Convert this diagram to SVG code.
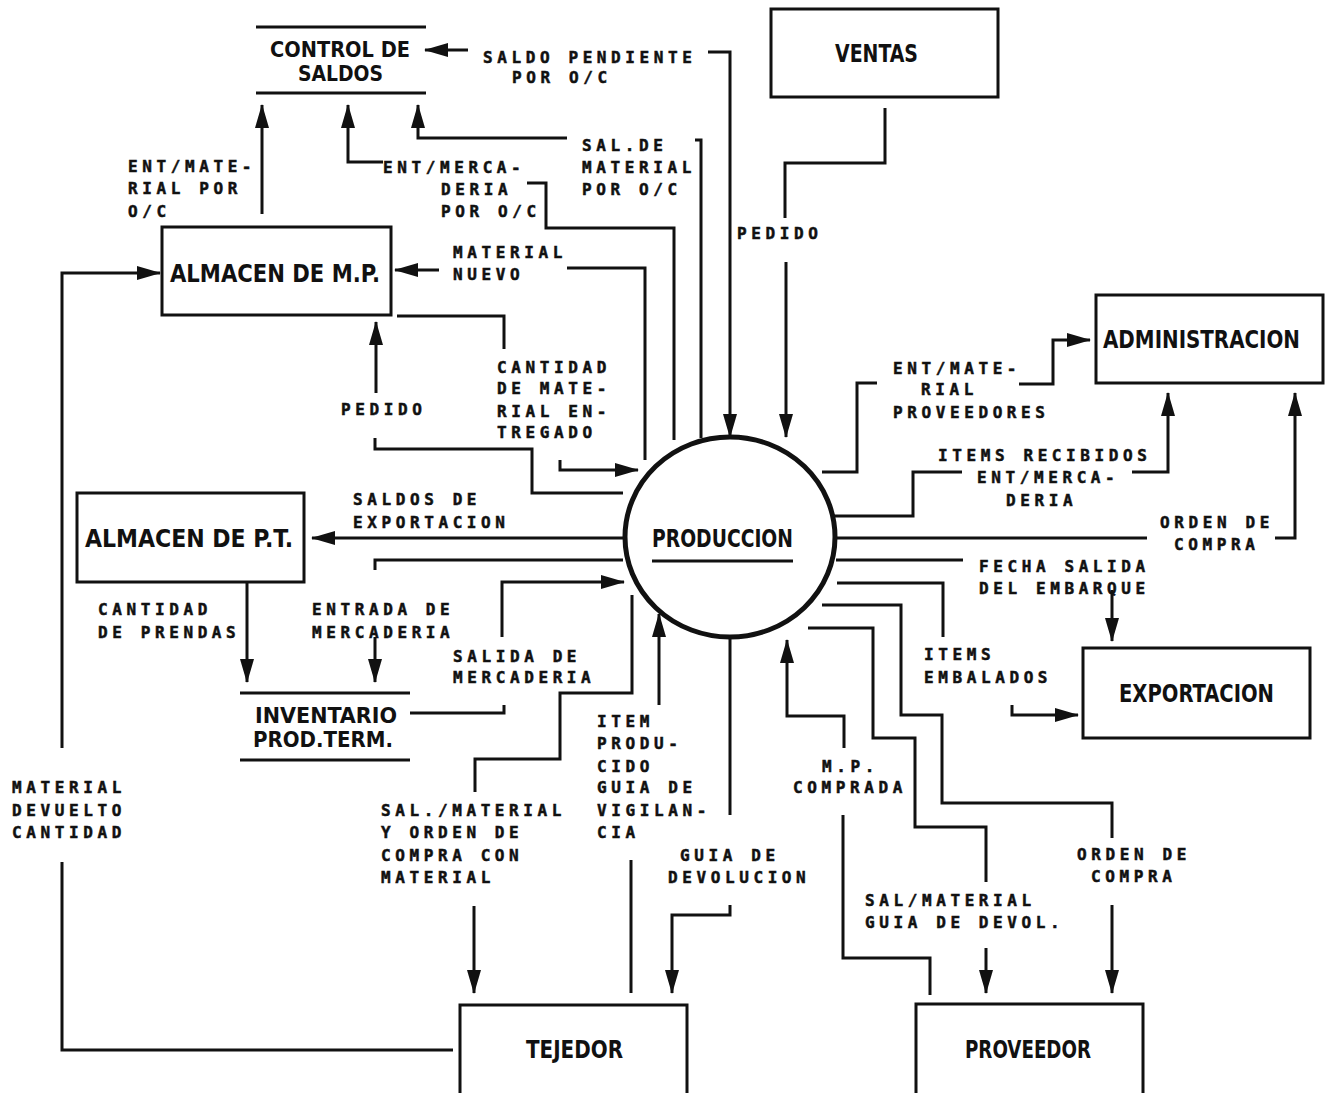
<svg xmlns="http://www.w3.org/2000/svg" width="1331" height="1093" viewBox="0 0 1331 1093">
<defs>
<marker id="ah" viewBox="0 0 24 14" refX="23" refY="7" markerWidth="24" markerHeight="14" markerUnits="userSpaceOnUse" orient="auto">
<path d="M0,0 L24,7 L0,14 Z" fill="#111"/>
</marker>
</defs>
<style>
.bx{fill:none;stroke:#111;stroke-width:3}
.st{stroke:#111;stroke-width:3}
.nt{font-family:"Liberation Sans Narrow","DejaVu Sans Condensed","Liberation Sans",sans-serif;font-weight:bold;font-size:25px;fill:#111}
.n2{font-size:21.5px}
.ln{fill:none;stroke:#111;stroke-width:3;stroke-linejoin:miter}
.ar{marker-end:url(#ah)}
.lb{font-family:"DejaVu Sans Mono","Liberation Mono",monospace;font-weight:bold;font-size:16px;letter-spacing:4.6px;fill:#111;stroke:#111;stroke-width:0.5}
</style>
<rect width="1331" height="1093" fill="#fff"/>

<g id="control-de-saldos">
<line class="st" x1="256" y1="27" x2="426" y2="27"/>
<line class="st" x1="256" y1="93" x2="426" y2="93"/>
<text class="nt n2" x="270" y="57" textLength="140" lengthAdjust="spacingAndGlyphs">CONTROL DE</text>
<text class="nt n2" x="298" y="81" textLength="85" lengthAdjust="spacingAndGlyphs">SALDOS</text>
</g>
<g id="ventas">
<rect class="bx" x="771" y="9" width="227" height="88"/>
<text class="nt" x="835" y="62" textLength="83" lengthAdjust="spacingAndGlyphs">VENTAS</text>
</g>
<g id="almacen-mp">
<rect class="bx" x="162" y="227" width="229" height="88"/>
<text class="nt" x="170" y="282" textLength="210" lengthAdjust="spacingAndGlyphs">ALMACEN DE M.P.</text>
</g>
<g id="administracion">
<rect class="bx" x="1096" y="295" width="227" height="88"/>
<text class="nt" x="1103" y="348" textLength="197" lengthAdjust="spacingAndGlyphs">ADMINISTRACION</text>
</g>
<g id="almacen-pt">
<rect class="bx" x="77" y="493" width="227" height="89"/>
<text class="nt" x="85" y="547" textLength="208" lengthAdjust="spacingAndGlyphs">ALMACEN DE P.T.</text>
</g>
<g id="produccion">
<ellipse cx="730" cy="537" rx="105" ry="100" fill="none" stroke="#111" stroke-width="5"/>
<text class="nt" x="652" y="547" textLength="141" lengthAdjust="spacingAndGlyphs">PRODUCCION</text>
<line class="st" x1="652" y1="561" x2="793" y2="561"/>
</g>
<g id="inventario-prod-term">
<line class="st" x1="240" y1="693" x2="410" y2="693"/>
<line class="st" x1="240" y1="760" x2="410" y2="760"/>
<text class="nt n2" x="255" y="723" textLength="142" lengthAdjust="spacingAndGlyphs">INVENTARIO</text>
<text class="nt n2" x="253" y="747" textLength="140" lengthAdjust="spacingAndGlyphs">PROD.TERM.</text>
</g>
<g id="exportacion">
<rect class="bx" x="1083" y="648" width="227" height="90"/>
<text class="nt" x="1119" y="702" textLength="155" lengthAdjust="spacingAndGlyphs">EXPORTACION</text>
</g>
<g id="tejedor">
<rect class="bx" x="460" y="1005" width="227" height="100"/>
<text class="nt" x="526" y="1058" textLength="97" lengthAdjust="spacingAndGlyphs">TEJEDOR</text>
</g>
<g id="proveedor">
<rect class="bx" x="916" y="1004" width="227" height="100"/>
<text class="nt" x="965" y="1058" textLength="126" lengthAdjust="spacingAndGlyphs">PROVEEDOR</text>
</g>

<g id="connectors">
<path class="ln ar" d="M708,52 H730 V437"/>
<path class="ln ar" d="M468,50 H425"/>
<path class="ln ar" d="M567,138 H418 V105"/>
<path class="ln" d="M695,140 H701 V438"/>
<path class="ln ar" d="M383,162 H348 V105"/>
<path class="ln" d="M527,183 H546 V228 H674 V440"/>
<path class="ln ar" d="M262,214 V105"/>
<path class="ln ar" d="M439,270 H395"/>
<path class="ln" d="M567,268 H645 V460"/>
<path class="ln" d="M397,316 H504 V349"/>
<path class="ln ar" d="M560,460 V470 H638"/>
<path class="ln ar" d="M376,393 V322"/>
<path class="ln" d="M375,438 V449 H532 V493 H623"/>
<path class="ln ar" d="M623,538 H312"/>
<path class="ln" d="M623,560 H375 V570"/>
<path class="ln ar" d="M375,637 V682"/>
<path class="ln ar" d="M247,582 V682"/>
<path class="ln" d="M410,713 H504 V705"/>
<path class="ln ar" d="M502,637 V582 H624"/>
<path class="ln" d="M632,595 V693 H560 V759 H475 V792"/>
<path class="ln ar" d="M474,906 V993"/>
<path class="ln ar" d="M659,705 V614"/>
<path class="ln" d="M631,860 V993"/>
<path class="ln" d="M730,637 V815"/>
<path class="ln ar" d="M730,905 V915 H672 V993"/>
<path class="ln" d="M453,1050 H62 V862"/>
<path class="ln ar" d="M62,748 V273 H160"/>
<path class="ln ar" d="M844,748 V716 H787 V640"/>
<path class="ln" d="M843,815 V958 H930 V995"/>
<path class="ln" d="M808,628 H873 V738 H915 V827 H986 V882"/>
<path class="ln ar" d="M986,948 V993"/>
<path class="ln" d="M822,605 H901 V715 H942 V803 H1112 V838"/>
<path class="ln ar" d="M1112,905 V993"/>
<path class="ln" d="M837,583 H943 V637"/>
<path class="ln ar" d="M1012,705 V715 H1078"/>
<path class="ln" d="M836,560 H963"/>
<path class="ln ar" d="M1112,590 V641"/>
<path class="ln" d="M836,538 H1147"/>
<path class="ln ar" d="M1275,538 H1295 V393"/>
<path class="ln" d="M833,516 H913 V472 H962"/>
<path class="ln ar" d="M1132,472 H1168 V393"/>
<path class="ln" d="M822,472 H857 V383 H877"/>
<path class="ln ar" d="M1019,384 H1053 V340 H1090"/>
<path class="ln" d="M885,108 V163 H785 V218"/>
<path class="ln ar" d="M786,262 V437"/>
</g>

<g id="labels">
<text class="lb" x="483" y="63">SALDO PENDIENTE</text>
<text class="lb" x="512" y="83">POR O/C</text>
<text class="lb" x="582" y="151">SAL.DE</text>
<text class="lb" x="582" y="173">MATERIAL</text>
<text class="lb" x="582" y="195">POR O/C</text>
<text class="lb" x="383" y="173">ENT/MERCA-</text>
<text class="lb" x="441" y="195">DERIA</text>
<text class="lb" x="441" y="217">POR O/C</text>
<text class="lb" x="128" y="172">ENT/MATE-</text>
<text class="lb" x="128" y="194">RIAL POR</text>
<text class="lb" x="128" y="217">O/C</text>
<text class="lb" x="453" y="258">MATERIAL</text>
<text class="lb" x="453" y="280">NUEVO</text>
<text class="lb" x="497" y="373">CANTIDAD</text>
<text class="lb" x="497" y="394">DE MATE-</text>
<text class="lb" x="497" y="417">RIAL EN-</text>
<text class="lb" x="497" y="438">TREGADO</text>
<text class="lb" x="341" y="415">PEDIDO</text>
<text class="lb" x="737" y="239">PEDIDO</text>
<text class="lb" x="353" y="505">SALDOS DE</text>
<text class="lb" x="353" y="528">EXPORTACION</text>
<text class="lb" x="98" y="615">CANTIDAD</text>
<text class="lb" x="98" y="638">DE PRENDAS</text>
<text class="lb" x="312" y="615">ENTRADA DE</text>
<text class="lb" x="312" y="638">MERCADERIA</text>
<text class="lb" x="453" y="662">SALIDA DE</text>
<text class="lb" x="453" y="683">MERCADERIA</text>
<text class="lb" x="597" y="727">ITEM</text>
<text class="lb" x="597" y="749">PRODU-</text>
<text class="lb" x="597" y="772">CIDO</text>
<text class="lb" x="597" y="793">GUIA DE</text>
<text class="lb" x="597" y="816">VIGILAN-</text>
<text class="lb" x="597" y="838">CIA</text>
<text class="lb" x="381" y="816">SAL./MATERIAL</text>
<text class="lb" x="381" y="838">Y ORDEN DE</text>
<text class="lb" x="381" y="861">COMPRA CON</text>
<text class="lb" x="381" y="883">MATERIAL</text>
<text class="lb" x="12" y="793">MATERIAL</text>
<text class="lb" x="12" y="816">DEVUELTO</text>
<text class="lb" x="12" y="838">CANTIDAD</text>
<text class="lb" x="680" y="861">GUIA DE</text>
<text class="lb" x="668" y="883">DEVOLUCION</text>
<text class="lb" x="822" y="772">M.P.</text>
<text class="lb" x="793" y="793">COMPRADA</text>
<text class="lb" x="865" y="906">SAL/MATERIAL</text>
<text class="lb" x="865" y="928">GUIA DE DEVOL.</text>
<text class="lb" x="1077" y="860">ORDEN DE</text>
<text class="lb" x="1091" y="882">COMPRA</text>
<text class="lb" x="924" y="660">ITEMS</text>
<text class="lb" x="924" y="683">EMBALADOS</text>
<text class="lb" x="979" y="572">FECHA SALIDA</text>
<text class="lb" x="979" y="594">DEL EMBARQUE</text>
<text class="lb" x="1160" y="528">ORDEN DE</text>
<text class="lb" x="1174" y="550">COMPRA</text>
<text class="lb" x="938" y="461">ITEMS RECIBIDOS</text>
<text class="lb" x="977" y="483">ENT/MERCA-</text>
<text class="lb" x="1006" y="506">DERIA</text>
<text class="lb" x="893" y="374">ENT/MATE-</text>
<text class="lb" x="921" y="395">RIAL</text>
<text class="lb" x="893" y="418">PROVEEDORES</text>
</g>
</svg>
